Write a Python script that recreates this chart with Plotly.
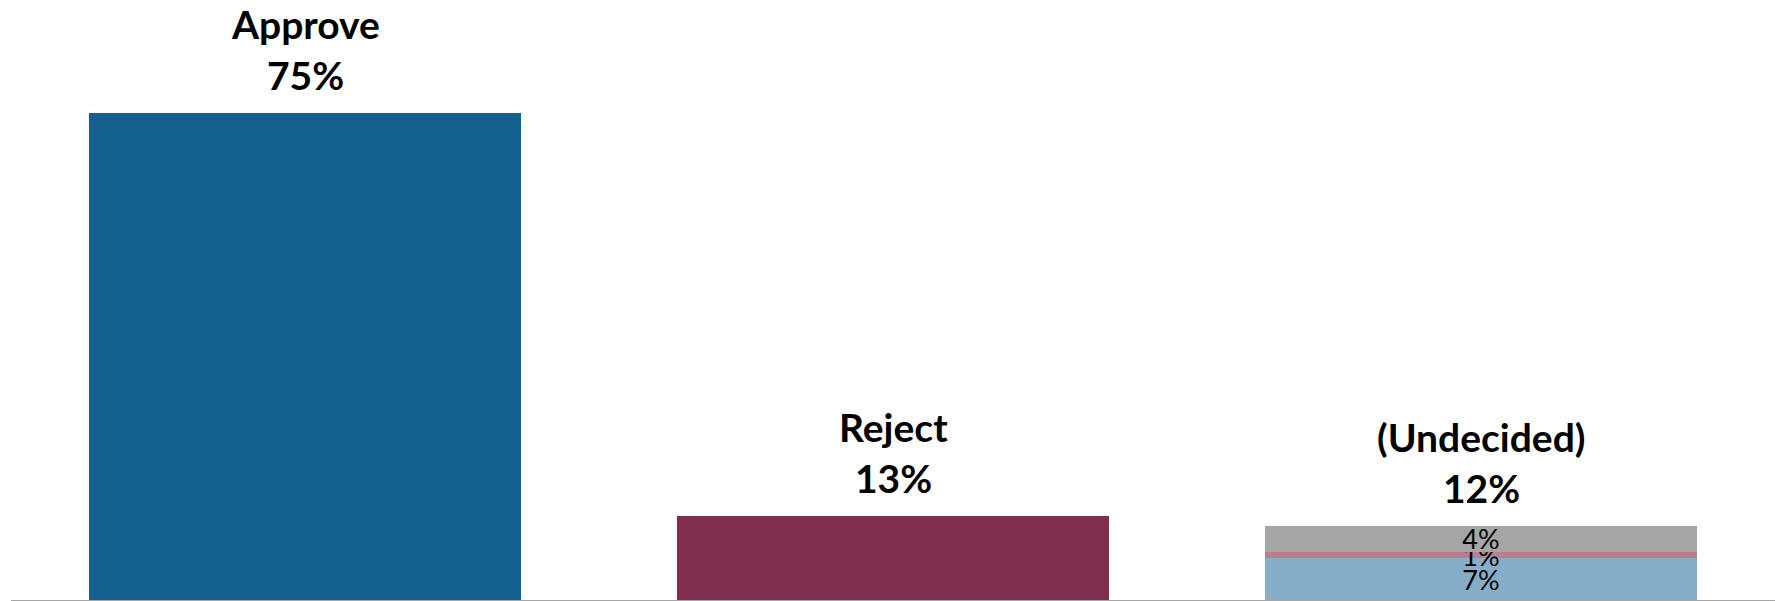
import plotly.graph_objects as go

categories = ["Approve", "Reject", "(Undecided)"]
totals = [75, 13, 11.4]
total_labels = ["75%", "13%", "12%"]
main_colors = ["#14618F", "#7F2F4D"]

# Undecided breakdown (stacked, bottom to top), heights
undecided_parts = [6.4, 1.0, 4.0]
undecided_colors = ["#86AEC8", "#B5808F", "#A6A6A6"]
undecided_labels = ["7%", "1%", "4%"]

FONT = "Lato"

fig = go.Figure()

fig.add_trace(go.Bar(
    x=categories[:2], y=totals[:2],
    marker=dict(color=main_colors, line=dict(width=0)),
    width=0.736, hoverinfo="skip", showlegend=False,
))

for val, col, lab in zip(undecided_parts, undecided_colors, undecided_labels):
    fig.add_trace(go.Bar(
        x=[categories[2]], y=[val],
        marker=dict(color=col, line=dict(width=0)),
        width=0.736, text=[lab], textposition="inside",
        insidetextanchor="middle", constraintext="none",
        textfont=dict(family=FONT, size=27, color="black"),
        cliponaxis=False, hoverinfo="skip", showlegend=False,
    ))

for cat, tot, lab in zip(categories, totals, total_labels):
    fig.add_annotation(x=cat, y=tot, text="<b>%s</b>" % lab, showarrow=False,
                       yanchor="middle", yshift=38,
                       font=dict(family=FONT, size=39, color="black"))
    fig.add_annotation(x=cat, y=tot, text="<b>%s</b>" % cat, showarrow=False,
                       yanchor="middle", yshift=89,
                       font=dict(family=FONT, size=39, color="black"))

fig.update_layout(
    barmode="stack",
    width=1783, height=601,
    margin=dict(l=3, r=16, t=0, b=9),
    paper_bgcolor="white", plot_bgcolor="white",
    xaxis=dict(showticklabels=False, showgrid=False, zeroline=False,
               showline=True, linecolor="#A6A6A6", linewidth=1, ticks=""),
    yaxis=dict(range=[0, 91.17], visible=False),
)

fig.write_html("out.html")
